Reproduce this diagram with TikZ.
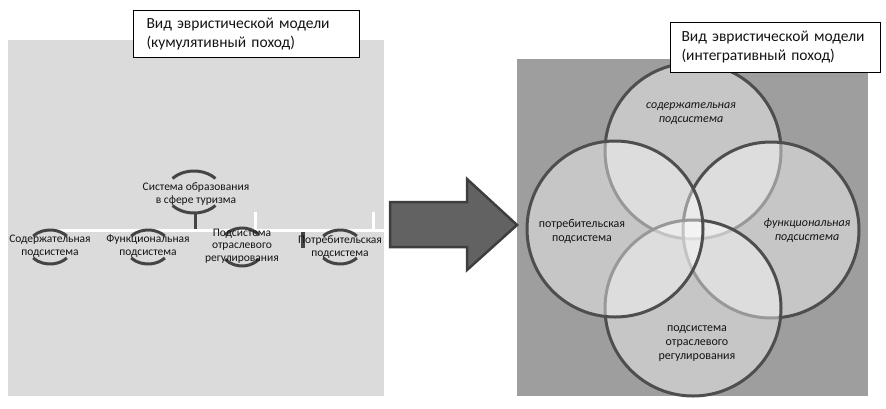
\documentclass[tikz,border=0pt]{standalone}
\usepackage{fontspec}
\setmainfont{Carlito}
\begin{document}
\begin{tikzpicture}[x=1pt,y=-1pt]
\definecolor{lpanel}{RGB}{219,219,219}
\definecolor{rpanel}{RGB}{158,158,158}
\definecolor{ringc}{RGB}{78,78,78}
\definecolor{arcc}{RGB}{68,68,68}
\definecolor{arrowf}{RGB}{98,98,98}
\definecolor{arrowd}{RGB}{62,62,62}
\definecolor{txt}{RGB}{20,20,20}
\tikzset{
  labelbox/.style={draw=black, line width=1pt, fill=white, anchor=north west, align=left,
    font=\fontsize{15.5}{19}\selectfont, text=txt, inner xsep=13pt, inner ysep=0pt},
  ring/.style={circle, draw=ringc, line width=3pt, fill=white, fill opacity=0.42,
    draw opacity=1, minimum size=176pt, inner sep=0pt},
  ringtext/.style={align=center, font=\fontsize{12}{14}\selectfont, text=txt, inner sep=0pt},
  leaftext/.style={align=center, font=\fontsize{11.5}{12.5}\selectfont, text=txt, inner sep=0pt},
  arcline/.style={draw=arcc, line width=3pt},
  whiteline/.style={draw=white, line width=3pt},
  darkline/.style={draw=arcc, line width=3.5pt}
}
\useasboundingbox (0,0) rectangle (886,408);
% panels
\fill[lpanel] (8,40) rectangle (384,396);
\fill[rpanel] (517,59) rectangle (868,396);

% ---------- left: cumulative model ----------
\coordinate (lineL) at (50,230);
\coordinate (lineR) at (385,230);
\draw[whiteline] (lineL) -- (lineR);
\coordinate (t1top) at (255,212);
\coordinate (t1bot) at (255,230);
\coordinate (t2top) at (373,212);
\coordinate (t2bot) at (373,230);
\draw[whiteline] (t1top) -- (t1bot);
\draw[whiteline] (t2top) -- (t2bot);

\node[leaftext] (root) at (196,194) {Система образования\\в сфере туризма};
\coordinate (stemtop) at (195,213);
\coordinate (stembot) at (195,229);
\draw[darkline, line width=3pt] (stemtop) -- (stembot);
\coordinate (dtop) at (303,232);
\coordinate (dbot) at (303,248);
\draw[darkline] (dtop) -- (dbot);

% arcs of root
\draw[arcline] (194,192) ++(140:28pt and 21pt) arc[start angle=140, end angle=40, x radius=28pt, y radius=21pt];
\draw[arcline] (194,192) ++(220:28pt and 21pt) arc[start angle=220, end angle=320, x radius=28pt, y radius=21pt];

\foreach \cx/\cy/\ry in {50/247/17, 148/247/17, 242/247/19, 340/247/17}{
  \draw[arcline] (\cx,\cy) ++(140:22pt and \ry pt) arc[start angle=140, end angle=40, x radius=22pt, y radius=\ry pt];
  \draw[arcline] (\cx,\cy) ++(220:22pt and \ry pt) arc[start angle=220, end angle=320, x radius=22pt, y radius=\ry pt];
}

\node[leaftext] (n1) at (50,246) {Содержательная\\подсистема};
\node[leaftext] (n2) at (148,246) {Функциональная\\подсистема};
\node[leaftext] (n3) at (242,246) {Подсистема\\отраслевого\\регулирования};
\node[leaftext] (n4) at (340,247) {Потребительская\\подсистема};

\node[labelbox, minimum width=226pt, minimum height=47pt, text width=200pt] (lbox) at (133,10)
  {Вид эвристической модели\\(кумулятивный поход)};

% ---------- arrow ----------
\fill[arrowf, draw=arrowd, line width=2.5pt, line join=miter]
  (390,202) -- (467,202) -- (467,179) -- (517,225) -- (467,270) -- (467,247) -- (390,247) -- cycle;

% ---------- right: integrative model ----------
\node[ring] (ctop) at (693,151) {};
\node[ring] (cright) at (771,230) {};
\node[ring] (cbot) at (693,308) {};
\node[ring] (cleft) at (615,229) {};

\node[ringtext, font=\fontsize{12}{14}\selectfont\itshape] (ttop) at (691,114) {содержательная\\подсистема};
\node[ringtext, font=\fontsize{12}{14}\selectfont\itshape] (tright) at (807,230) {функциональная\\подсистема};
\node[ringtext] (tleft) at (582,231) {потребительская\\подсистема};
\node[ringtext] (tbot) at (697,344) {подсистема\\отраслевого\\регулирования};

\node[labelbox, inner xsep=11pt, minimum height=50pt, text width=188pt] (rbox) at (670,22)
  {Вид эвристической модели\\(интегративный поход)};
\end{tikzpicture}
\end{document}
